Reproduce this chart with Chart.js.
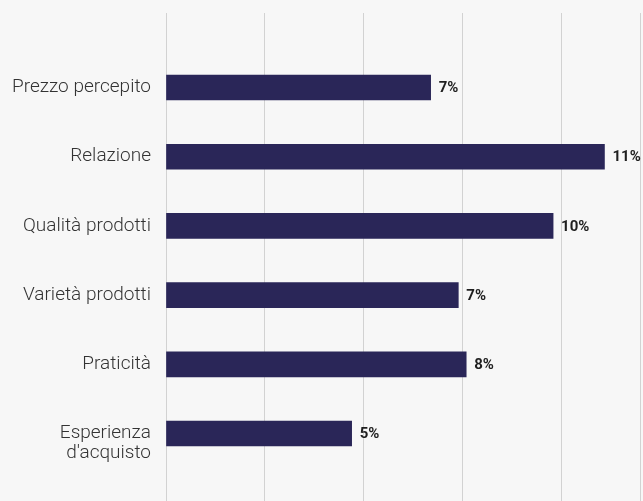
<!DOCTYPE html>
<html lang="it">
<head>
<meta charset="utf-8">
<title>Motivi di scelta</title>
<script src="https://cdn.jsdelivr.net/npm/chart.js"></script>
<style>
  html, body { margin: 0; padding: 0; background: #f7f7f7; }
  #wrap { width: 643px; height: 501px; position: relative; }
</style>
</head>
<body>
<div id="wrap"><canvas id="motivi"></canvas></div>
<script>
const categorie = [
  "Prezzo percepito",
  "Relazione",
  "Qualità prodotti",
  "Varietà prodotti",
  "Praticità",
  ["", "Esperienza", "d'acquisto"], // leading blank line drops the two-line label a little
];
const percentuali = [6.7, 11.1, 9.8, 7.4, 7.6, 4.7];

// bars sit on a linear y scale (index per category) so the grid can run past them
const punti = percentuali.map((v, i) => ({ x: v, y: i }));

const etichetteValori = {
  id: "etichetteValori",
  afterDatasetsDraw(chart) {
    const ctx = chart.ctx;
    const meta = chart.getDatasetMeta(0);
    ctx.save();
    ctx.font = "bold 15px Roboto";
    ctx.fillStyle = "#1f1f1f";
    ctx.textAlign = "left";
    ctx.textBaseline = "middle";
    meta.data.forEach((bar, i) => {
      ctx.fillText(Math.round(percentuali[i]) + "%", bar.x + 8, bar.y + 1);
    });
    ctx.restore();
  },
};

let config = {
  type: "bar",
  data: {
    datasets: [
      {
        data: punti,
        backgroundColor: "#2a2658",
        barThickness: 25,
      },
    ],
  },
  options: {
    indexAxis: "y",
    responsive: true,
    maintainAspectRatio: false,
    animation: false,
    layout: { padding: { top: 13, right: 3, left: 0, bottom: 0 } },
    plugins: {
      legend: { display: false },
      tooltip: { enabled: false },
    },
    scales: {
      x: {
        type: "linear",
        bounds: "data",
        min: 0,
        max: 12,
        border: { display: false },
        grid: { color: "#d2d2d2", lineWidth: 1, drawTicks: false },
        ticks: { display: false, stepSize: 2.5, includeBounds: false },
      },
      y: {
        type: "linear",
        bounds: "data",
        offset: false,
        reverse: true,
        min: -1.077,
        max: 5.975,
        border: { display: false },
        grid: { display: false, drawTicks: false, offset: false },
        ticks: {
          autoSkip: false,
          padding: 15,
          color: "#333333",
          font: { family: "Roboto", size: 19, weight: 300, lineHeight: 1.05 },
          callback: (v) => categorie[v] || "",
        },
        // one tick per category index
        afterBuildTicks(scale) {
          scale.ticks = categorie.map((c, i) => ({ value: i }));
        },
        afterFit(scale) {
          scale.width = 166;
          scale.paddingTop = 0;
          scale.paddingBottom = 0;
        },
      },
    },
  },
  plugins: [etichetteValori],
};

let grafico = new Chart(document.getElementById("motivi").getContext("2d"), config);
</script>
</body>
</html>
